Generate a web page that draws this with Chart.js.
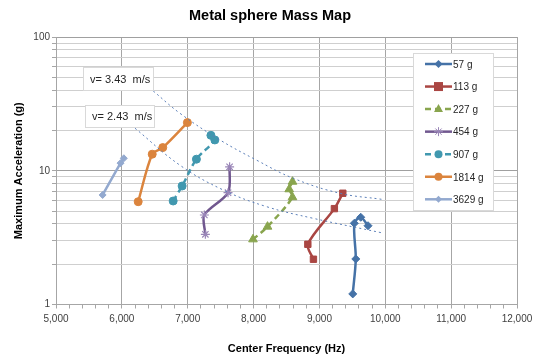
<!DOCTYPE html>
<html>
<head>
<meta charset="utf-8">
<script src="https://cdn.jsdelivr.net/npm/chart.js@4/dist/chart.umd.min.js"></script>
<style>
  html, body { margin: 0; padding: 0; background: #fff; }
  #wrap { width: 538px; height: 357px; }
</style>
</head>
<body>
<div id="wrap"><canvas id="mass-chart" width="538" height="357"></canvas></div>
<script>
// masses (legend labels)
var massLabels = ['57 g', '113 g', '227 g', '454 g', '907 g', '1814 g', '3629 g'];
var chartTitle = 'Metal sphere Mass Map';

// center frequency (Hz) / max acceleration (g) per mass
var f57 = [9506, 9552, 9530, 9627, 9738];
var a57 = [1.2, 2.19, 4.05, 4.49, 3.88];
var f113 = [8909, 8824, 9227, 9355];
var a113 = [2.18, 2.82, 5.21, 6.79];
var f227 = [7991, 8212, 8591, 8541, 8591];
var a227 = [3.07, 3.82, 6.34, 7.27, 8.28];
var f454 = [7268, 7253, 7612, 7636];
var a454 = [3.35, 4.67, 6.86, 10.7];
var f907 = [6779, 6915, 7132, 7412, 7352];
var a907 = [5.94, 7.69, 12.2, 17.0, 18.4];
var f1814 = [6248, 6461, 6621, 6995];
var a1814 = [5.87, 13.3, 14.9, 22.9];
var f3629 = [5708, 5980, 6030];
var a3629 = [6.59, 11.4, 12.4];

// constant velocity guide curves
var fV343 = [6476, 6882, 7489, 8046, 8601, 9310, 9942];
var aV343 = [39.5, 26.9, 17.0, 12.0, 8.79, 6.79, 6.12];
var fV243 = [6199, 6882, 7539, 8197, 8904, 9942];
var aV243 = [20.8, 11.0, 7.18, 5.39, 4.41, 3.44];
var curveLabels = ['v= 3.43  m/s', 'v= 2.43  m/s'];

// axis ticks
var xTickLabels = [5000, 6000, 7000, 8000, 9000, 10000, 11000, 12000];
var yTickLabels = [1, 10, 100];

function pts(fs, as) {
  var out = [];
  for (var i = 0; i < fs.length; i++) out.push({x: fs[i], y: as[i]});
  return out;
}

var colors = ['#4572a7', '#aa4643', '#89a54e', '#71588f', '#4198af', '#db843d', '#93a9cf'];
var styles = ['rectRot', 'rect', 'triangle', 'star', 'circle', 'circle', 'rectRot'];
var radii = [4, 4.5, 5, 4.5, 4, 4, 3.5];
var dashes = [[], [], [6, 4], [], [6, 4], [], []];
var series = [
  pts(f57, a57), pts(f113, a113), pts(f227, a227), pts(f454, a454),
  pts(f907, a907), pts(f1814, a1814), pts(f3629, a3629)
];

var datasets = [];
datasets.push({
  label: curveLabels[0], data: pts(fV343, aV343), showLine: true,
  borderColor: '#5b7fb8', borderWidth: 1, borderDash: [2, 3], pointRadius: 0, tension: 0.4
});
datasets.push({
  label: curveLabels[1], data: pts(fV243, aV243), showLine: true,
  borderColor: '#5b7fb8', borderWidth: 1, borderDash: [2, 3], pointRadius: 0, tension: 0.4
});
for (var s = 0; s < series.length; s++) {
  datasets.push({
    label: massLabels[s],
    data: series[s],
    showLine: true,
    borderColor: colors[s],
    backgroundColor: colors[s],
    pointBackgroundColor: colors[s],
    pointBorderColor: s === 3 ? '#9a86b8' : colors[s],
    pointBorderWidth: s === 3 ? 1.2 : 1,
    borderWidth: 2.5,
    borderDash: dashes[s],
    pointStyle: styles[s],
    pointRadius: radii[s],
    tension: 0.3
  });
}

function marker(ctx, style, x, y, r, fill, stroke) {
  ctx.save();
  ctx.fillStyle = fill;
  ctx.strokeStyle = stroke;
  ctx.lineWidth = 1;
  ctx.setLineDash([]);
  ctx.beginPath();
  if (style === 'circle') {
    ctx.arc(x, y, r, 0, Math.PI * 2);
    ctx.fill();
  } else if (style === 'rect') {
    ctx.rect(x - r, y - r, 2 * r, 2 * r);
    ctx.fill();
  } else if (style === 'rectRot') {
    ctx.moveTo(x, y - r); ctx.lineTo(x + r, y); ctx.lineTo(x, y + r); ctx.lineTo(x - r, y);
    ctx.closePath(); ctx.fill();
  } else if (style === 'triangle') {
    ctx.moveTo(x, y - r); ctx.lineTo(x + r * 0.9, y + r * 0.6); ctx.lineTo(x - r * 0.9, y + r * 0.6);
    ctx.closePath(); ctx.fill();
  } else if (style === 'star') {
    ctx.moveTo(x - r, y); ctx.lineTo(x + r, y);
    ctx.moveTo(x, y - r); ctx.lineTo(x, y + r);
    ctx.moveTo(x - r * 0.7, y - r * 0.7); ctx.lineTo(x + r * 0.7, y + r * 0.7);
    ctx.moveTo(x - r * 0.7, y + r * 0.7); ctx.lineTo(x + r * 0.7, y - r * 0.7);
    ctx.stroke();
  }
  ctx.restore();
}

// title, legend box + velocity labels drawn on top of the plot
var overlay = {
  id: 'overlay',
  afterDatasetsDraw: function(chart) {
    var ctx = chart.ctx;
    ctx.save();
    // title, centred on the whole canvas
    ctx.font = 'bold 14.5px "Liberation Sans", Arial, sans-serif';
    ctx.fillStyle = '#000';
    ctx.textAlign = 'center';
    ctx.textBaseline = 'middle';
    ctx.fillText(chartTitle, 270, 16);
    // velocity labels
    var boxes = [[83, 67, 70, 23], [85, 105, 69, 22]];
    ctx.font = '11px "Liberation Sans", Arial, sans-serif';
    for (var b = 0; b < boxes.length; b++) {
      var bx = boxes[b];
      ctx.fillStyle = '#fff';
      ctx.fillRect(bx[0], bx[1], bx[2], bx[3]);
      ctx.strokeStyle = '#d9d9d9';
      ctx.lineWidth = 1;
      ctx.strokeRect(bx[0] + 0.5, bx[1] + 0.5, bx[2], bx[3]);
      ctx.fillStyle = '#262626';
      ctx.textAlign = 'left';
      ctx.fillText(curveLabels[b], bx[0] + 7, bx[1] + bx[3] / 2 + 1);
    }
    // legend
    var lx = 413, ly = 53, lw = 80, lh = 157;
    ctx.fillStyle = '#fff';
    ctx.fillRect(lx, ly, lw, lh);
    ctx.strokeStyle = '#d9d9d9';
    ctx.strokeRect(lx + 0.5, ly + 0.5, lw, lh);
    ctx.font = '10px "Liberation Sans", Arial, sans-serif';
    for (var i = 0; i < massLabels.length; i++) {
      var y = 64 + i * 22.55;
      ctx.strokeStyle = colors[i];
      ctx.lineWidth = 2.5;
      ctx.setLineDash(dashes[i]);
      ctx.beginPath();
      ctx.moveTo(425, y);
      ctx.lineTo(452, y);
      ctx.stroke();
      ctx.setLineDash([]);
      marker(ctx, styles[i], 438.5, y, radii[i], colors[i], i === 3 ? '#9a86b8' : colors[i]);
      ctx.fillStyle = '#262626';
      ctx.textAlign = 'left';
      ctx.fillText(massLabels[i], 453, y + 1);
    }
    ctx.restore();
  }
};

var chartEl = document.getElementById('mass-chart');
var massChart = new Chart(chartEl, {
  type: 'scatter',
  data: { datasets: datasets },
  plugins: [overlay],
  options: {
    responsive: false,
    animation: false,
    layout: { padding: { right: 21, left: 0, top: 37, bottom: 0 } },
    plugins: {
      legend: { display: false },
      tooltip: { enabled: false },
      title: { display: false }
    },
    scales: {
      x: {
        type: 'linear',
        min: 5000,
        max: 12000,
        afterFit: function(scale) { scale.height = 52.5; },
        afterBuildTicks: function(scale) {
          var t = [];
          for (var v = 5000; v <= 12000; v += 200) t.push({value: v});
          scale.ticks = t;
        },
        ticks: {
          autoSkip: false,
          maxRotation: 0,
          padding: 5,
          color: '#404040',
          font: { family: '"Liberation Sans", Arial, sans-serif', size: 10 },
          callback: function(v) {
            return xTickLabels.indexOf(v) >= 0 ? v.toLocaleString('en-US') : '';
          }
        },
        grid: {
          color: function(c) { return c.tick && c.tick.value % 1000 === 0 ? '#a6a6a6' : 'rgba(0,0,0,0)'; },
          tickColor: '#a6a6a6',
          tickLength: 4
        },
        border: { color: '#a6a6a6' },
        title: {
          display: true,
          text: 'Center Frequency (Hz)',
          color: '#000',
          font: { family: '"Liberation Sans", Arial, sans-serif', size: 11, weight: 'bold' },
          padding: { top: 0, bottom: 1 }
        }
      },
      y: {
        type: 'logarithmic',
        min: 1,
        max: 100,
        afterFit: function(scale) { scale.width = 56; },
        afterBuildTicks: function(scale) {
          var t = [];
          for (var d = 1; d <= 10; d *= 10) {
            for (var k = 1; k < 10; k++) t.push({value: d * k});
          }
          t.push({value: 100});
          scale.ticks = t;
        },
        ticks: {
          autoSkip: false,
          padding: 2,
          color: '#404040',
          font: { family: '"Liberation Sans", Arial, sans-serif', size: 10 },
          callback: function(v) { return yTickLabels.indexOf(v) >= 0 ? String(v) : ''; }
        },
        grid: {
          color: function(c) {
            if (!c.tick) return '#c8c8c8';
            return yTickLabels.indexOf(c.tick.value) >= 0 ? '#a0a0a0' : '#cfcfcf';
          },
          tickColor: '#a6a6a6',
          tickLength: 4
        },
        border: { color: '#a6a6a6' },
        title: {
          display: true,
          text: 'Maximum Acceleration (g)',
          color: '#000',
          font: { family: '"Liberation Sans", Arial, sans-serif', size: 11, weight: 'bold' },
          padding: { top: 12, bottom: 0 }
        }
      }
    }
  }
});
</script>
</body>
</html>
